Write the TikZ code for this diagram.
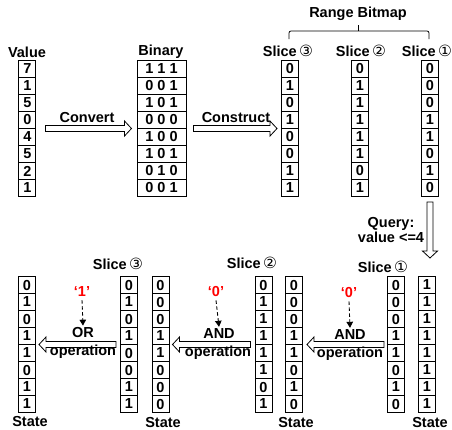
\documentclass[tikz,border=0pt]{standalone}
\usepackage{fontspec}
\setmainfont{Liberation Sans}
\newfontfamily\circfont{DejaVu Sans}
\usetikzlibrary{matrix,calc,arrows.meta}
\definecolor{qred}{RGB}{255,0,0}
\newcommand{\slicelbl}[1]{Slice\,{\circfont\mdseries\fontsize{15.5}{15}\selectfont #1}}
\begin{document}
\begin{tikzpicture}[x=1pt,y=-1pt,
  every node/.style={font=\fontsize{14.5}{16}\selectfont\bfseries, inner sep=0pt},
  col/.style={matrix of nodes, inner sep=0pt, outer sep=0pt, row sep=-1pt, anchor=north,
     nodes={draw, line width=1pt, outer sep=0pt, minimum width=17pt, minimum height=17pt, inner sep=0pt, anchor=center}},
  widecol/.style={col, nodes={minimum width=49pt}},
  hollow/.style={draw, line width=0.8pt, line join=miter,
    to path={let \p1=(\tikztostart), \p2=(\tikztotarget), \n1={atan2(\y2-\y1,\x2-\x1)} in
      ($(\p1)+({\n1+90}:3pt)$) -- ($(\p2)+({\n1+180}:7pt)+({\n1+90}:3pt)$)
      -- ($(\p2)+({\n1+180}:7pt)+({\n1+90}:7.5pt)$) -- (\p2)
      -- ($(\p2)+({\n1+180}:7pt)+({\n1-90}:7.5pt)$)
      -- ($(\p2)+({\n1+180}:7pt)+({\n1-90}:3pt)$)
      -- ($(\p1)+({\n1-90}:3pt)$) -- cycle}},
  dsh/.style={dash pattern=on 3.5pt off 2.5pt, line width=0.9pt, -{Triangle[length=6pt,width=6.5pt]}},
  qlab/.style={text=qred},
]
\useasboundingbox[fill=white] (0,0) rectangle (452,429);

% ---------- top section ----------
\node (lval) at (27,52) {Value};
\node (lbin) at (161,52) {Binary};
\node (ls3t) at (288,51) {\slicelbl{③}};
\node (ls2t) at (361,51) {\slicelbl{②}};
\node (ls1t) at (427,51) {\slicelbl{①}};
\node (rb) at (358,14) {Range Bitmap};
\draw[line width=0.8pt, rounded corners=2pt] (289,39) -- (289,31) -- (429,31) -- (429,39);
\draw[line width=0.8pt] (rb.south |- 0,31) -- (rb.south |- 0,25);

\matrix (val) [col] at (27.5,60) {7\\1\\5\\0\\4\\5\\2\\1\\};
\matrix (bin) [widecol] at (161.5,60) {1 1 1\\0 0 1\\1 0 1\\0 0 0\\1 0 0\\1 0 1\\0 1 0\\0 0 1\\};
\matrix (s3t) [col] at (290,60) {0\\1\\0\\1\\0\\0\\1\\1\\};
\matrix (s2t) [col] at (360,60) {0\\1\\1\\1\\1\\1\\0\\1\\};
\matrix (s1t) [col] at (430,60) {0\\0\\0\\1\\1\\0\\1\\0\\};

\draw[hollow] ([xshift=9pt]val.east) to ([xshift=-5pt]bin.west);
\node (conv) at (87,118) {Convert};
\draw[hollow] ([xshift=7pt]bin.east) to ([xshift=-4pt]s3t.west);
\node (cons) at (236,118) {Construct};

\coordinate (qend) at (430,258);
\draw[hollow] ([yshift=-5pt]s1t.south) to (qend);
\node[align=center] (query) at (391,230) {Query:\\[-1pt]value <=4};

% ---------- bottom section ----------
\node (ls1b) at (383,267) {\slicelbl{①}};
\node (ls2b) at (252,263) {\slicelbl{②}};
\node (ls3b) at (118,264) {\slicelbl{③}};

\matrix (s1b) [col] at (396,276) {0\\0\\0\\1\\1\\0\\1\\0\\};
\matrix (st1) [col] at (427,276) {1\\1\\1\\1\\1\\1\\1\\1\\};
\matrix (s2b) [col] at (263.5,276) {0\\1\\1\\1\\1\\1\\0\\1\\};
\matrix (st2) [col] at (294,276) {0\\0\\0\\1\\1\\0\\1\\0\\};
\matrix (s3b) [col] at (129,276) {0\\1\\0\\1\\0\\0\\1\\1\\};
\matrix (st3) [col] at (160.5,276) {0\\0\\0\\1\\1\\0\\0\\0\\};
\matrix (fin) [col] at (27,276) {0\\1\\0\\1\\1\\0\\1\\1\\};

\node (lst1) at (430,422) {State};
\node (lst2) at (296,422) {State};
\node (lst3) at (163,422) {State};
\node (lfin) at (30,421) {State};

% right AND
\draw[hollow] ([xshift=-3pt]s1b.west) to ([xshift=4pt]st2.east);
\node[qlab] (q1) at (349,293) {‘0’};
\node (and1) at (350,335) {AND};
\node (op1) at (350,354) {operation};
\draw[dsh] ([yshift=-3pt]q1.south) -- ([yshift=2pt]and1.north);
% middle AND
\draw[hollow] ([xshift=-4pt]s2b.west) to ([xshift=3pt]st3.east);
\node[qlab] (q2) at (216,292) {‘0’};
\node (and2) at (219,334) {AND};
\node (op2) at (218,353) {operation};
\draw[dsh] ([yshift=-3pt]q2.south) -- ([yshift=2pt]and2.north);
% OR
\draw[hollow] ([xshift=-4pt]s3b.west) to ([xshift=3pt]fin.east);
\node[qlab] (q3) at (82,292) {‘1’};
\node (or) at (83,333) {OR};
\node (op3) at (83,352) {operation};
\draw[dsh] ([yshift=-3pt]q3.south) -- ([yshift=2pt]or.north);
\end{tikzpicture}
\end{document}
